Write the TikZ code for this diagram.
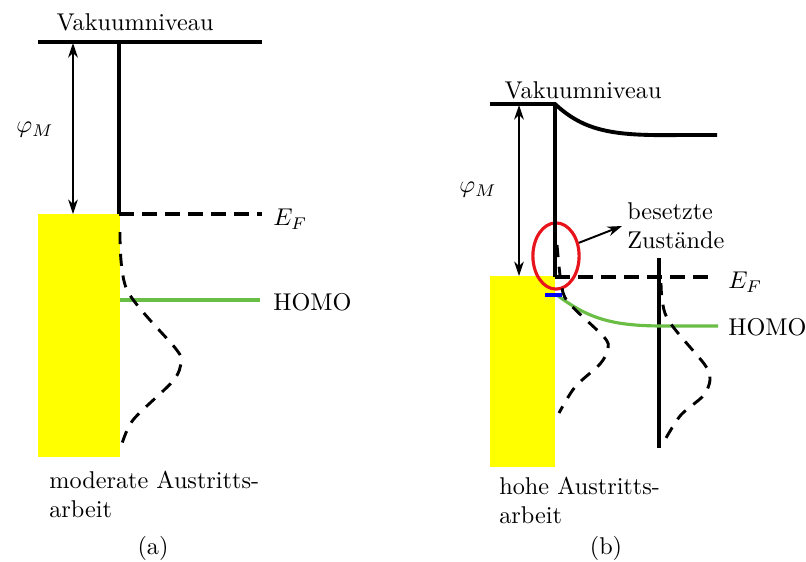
\documentclass[tikz,border=0pt]{standalone}
\usepackage{xcolor}
\usepackage{tikz}
\usetikzlibrary{arrows.meta, positioning, shapes.geometric}
\definecolor{metal}{HTML}{FFFF00}
\definecolor{homogreen}{HTML}{6ABD45}
\definecolor{ringred}{HTML}{E8141B}

\begin{document}
\begin{tikzpicture}[
    x=0.0145cm, y=-0.0145cm,
    level/.style={line width=1.6pt},
    fermi/.style={line width=1.6pt, dash pattern=on 6pt off 3.5pt},
    dos/.style={line width=1.2pt, dash pattern=on 5pt off 4pt},
    homoline/.style={line width=1.3pt, color=homogreen},
    phiarr/.style={{Stealth[length=6pt,width=4pt]}-{Stealth[length=6pt,width=4pt]}, line width=0.6pt},
    arr/.style={-{Stealth[length=6pt,width=4pt]}, line width=0.8pt},
    lbl/.style={inner sep=2pt},
    ring/.style={ellipse, draw=ringred, line width=1.3pt, minimum width=0.67cm, minimum height=0.96cm, inner sep=0pt}
]
    \useasboundingbox (0,0) rectangle (806,561);

    % (a) moderate work function
    \fill[metal] (38,214) rectangle (120,457);
    \coordinate (vacAl) at (38,42);
    \coordinate (vacAr) at (262,42);
    \coordinate (vacAm) at (119,42);
    \coordinate (fermiAl) at (119,214);
    \coordinate (fermiAr) at (262,214);
    \coordinate (homoAl) at (120,300);
    \coordinate (homoAr) at (260,300);
    \coordinate (phiAtop) at (73,43);
    \coordinate (phiAbot) at (73,214);

    \node[lbl] (vacA) at (135,22) {Vakuumniveau};
    \node[lbl] (phiA) at (35,130) {$\varphi_M$};
    \node[lbl, anchor=west] (efA) at (268,219) {$E_F$};
    \node[lbl, anchor=west] (homoA) at (268,302) {HOMO};
    \node[lbl, anchor=north west, align=left] (wfA) at (44,466) {moderate Austritts-\\arbeit};
    \node[lbl] (capA) at (153,548) {(a)};

    \draw[level] (vacAl) -- (vacAr);
    \draw[level] (vacAm) -- (fermiAl);
    \draw[fermi] (fermiAl) -- (fermiAr);
    \draw[homoline] (homoAl) -- (homoAr);
    \draw[phiarr] (phiAtop) -- (phiAbot);
    \draw[dos] plot[smooth, tension=0.5] coordinates {(120,232) (127,290) (176,349) (181,362) (173,381) (133,420) (121,447)};

    % (b) high work function
    \fill[metal] (490,276) rectangle (555,467);
    \coordinate (vacBl) at (490,104);
    \coordinate (vacBm) at (555,104);
    \coordinate (vacBk) at (680,135);
    \coordinate (vacBr) at (717,135);
    \coordinate (fermiBl) at (555,277);
    \coordinate (fermiBr) at (715,277);
    \coordinate (homoBl) at (557,295);
    \coordinate (homoBk) at (665,326);
    \coordinate (homoBr) at (718,326);
    \coordinate (molTop) at (659,258);
    \coordinate (molBot) at (659,448);
    \coordinate (phiBtop) at (519,105);
    \coordinate (phiBbot) at (519,276);

    \node[lbl] (vacB) at (583,90) {Vakuumniveau};
    \node[lbl] (phiB) at (478,190) {$\varphi_M$};
    \node[lbl, anchor=west] (efB) at (723,282) {$E_F$};
    \node[lbl, anchor=west] (homoB) at (723,327) {HOMO};
    \node[lbl, anchor=north west, align=left] (wfB) at (494,472) {hohe Austritts-\\arbeit};
    \node[lbl] (capB) at (606,548) {(b)};
    \node[ring] (occ) at (556,256) {};
    \node[lbl, anchor=west, align=left] (occtext) at (622,226) {besetzte\\Zustände};

    \draw[level] (vacBl) -- (vacBm) .. controls (585,132) and (615,136) .. (vacBk) -- (vacBr);
    \draw[level] (vacBm) -- (fermiBl);
    \draw[fermi] (fermiBl) -- (fermiBr);
    \draw[level] (molTop) -- (molBot);
    \draw[homoline] (homoBl) .. controls (590,320) and (615,326) .. (homoBk) -- (homoBr);
    \draw[blue, line width=1.3pt] (545,295) -- (562,295);
    \draw[phiarr] (phiBtop) -- (phiBbot);
    \draw[dos] plot[smooth, tension=0.5] coordinates {(557,245) (561,282) (568,302) (604,337) (608,349) (600,364) (575,387) (559,413)};
    \draw[dos] plot[smooth, tension=0.5] coordinates {(661,283) (667,318) (705,365) (710,380) (703,396) (680,416) (662,445)};
    \draw[arr] (occ.30) -- (occtext.west);
\end{tikzpicture}
\end{document}
